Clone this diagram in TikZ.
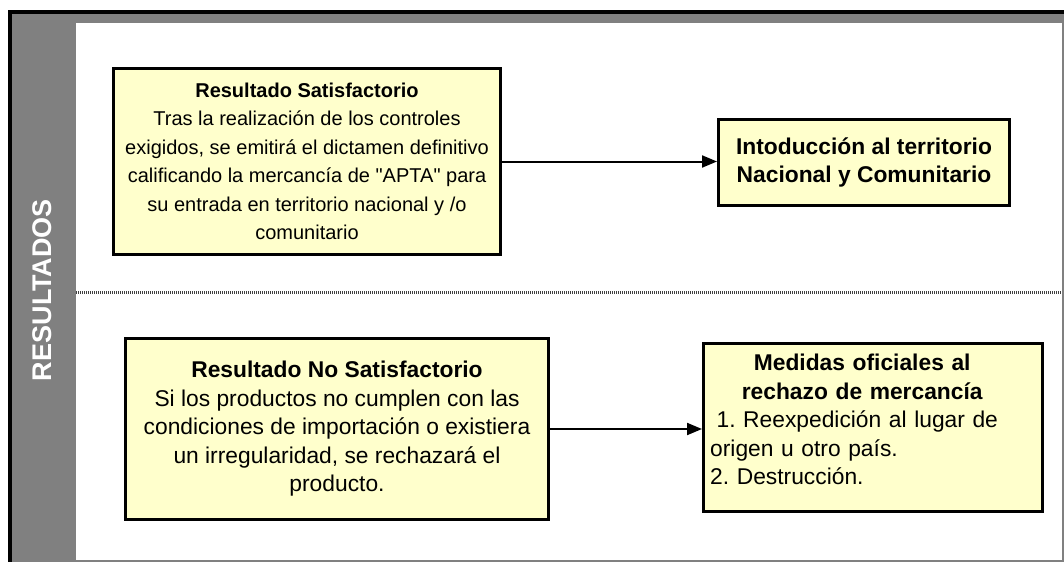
\documentclass[tikz,border=0pt]{standalone}
\usepackage{fontspec}
\setmainfont{Liberation Sans}
\usetikzlibrary{arrows.meta}
\definecolor{boxfill}{HTML}{FFFFCC}
\definecolor{lanegray}{HTML}{808080}
\frenchspacing
\begin{document}
\begin{tikzpicture}[x=1pt,y=-1pt,
  box/.style={draw=black, line width=3pt, fill=boxfill, inner sep=0pt, align=center},
  smalltext/.style={font=\fontsize{20}{28.5}\selectfont},
  bigtext/.style={font=\fontsize{22.8}{28.5}\selectfont},
  conn/.style={draw=black, line width=2pt, -{Triangle[length=15pt,width=12pt]}},
  lanelabel/.style={rotate=90, text=white, font=\bfseries\fontsize{27}{27}\selectfont, inner sep=0pt}]
\useasboundingbox (0,0) rectangle (1064,562);
% lane frame
\fill[black] (8,10) rectangle (1064,562);
\fill[lanegray] (12,14) rectangle (1064,562);
\fill[white] (76,23) rectangle (1061.5,560);
\draw[black!75, line width=3pt, dash pattern=on 1pt off 1pt] (76,292) -- (1061.5,292);
\node[lanelabel] (lane) at (42,290) {RESULTADOS};
% boxes
\node[box, smalltext, minimum width=387pt, minimum height=186pt] (b1) at (307,161.5)
  {{\bfseries Resultado Satisfactorio}\\
   Tras la realización de los controles\\
   exigidos, se emitirá el dictamen definitivo\\
   calificando la mercancía de \textquotedbl APTA\textquotedbl{} para\\
   su entrada en territorio nacional y /o\\
   comunitario};
\node[box, font=\bfseries\fontsize{22.8}{28.5}\selectfont, minimum width=291pt, minimum height=86pt] (b2) at (864,162.5)
  {Intoducción al territorio\\ Nacional y Comunitario};
\node[box, bigtext, minimum width=423pt, minimum height=181pt] (b3) at (337,429)
  {{\bfseries Resultado No Satisfactorio}\\
   Si los productos no cumplen con las\\
   condiciones de importación o existiera\\
   un irregularidad, se rechazará el\\
   producto.};
\node[box, minimum width=339pt, minimum height=168pt] (b4) at (873,427.5) {};
\node[bigtext, anchor=base west, inner sep=0pt, text width=304pt, align=left] (b4t) at (710,370.7)
  {\makebox[304pt][c]{\bfseries Medidas oficiales al}\\
   \makebox[304pt][c]{\bfseries rechazo de mercancía}\\
   \hspace*{6.4pt}1. Reexpedición al lugar de\\
   origen u otro país.\\
   2. Destrucción.};
% connectors
\draw[conn] (b1.east) -- (b1.east -| b2.west);
\draw[conn] (b3.east) -- (b3.east -| b4.west);
\end{tikzpicture}
\end{document}
